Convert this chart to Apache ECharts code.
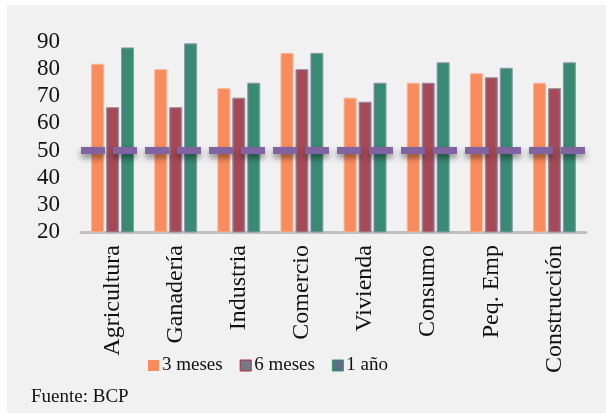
<!DOCTYPE html>
<html><head><meta charset="utf-8">
<script src="https://cdn.jsdelivr.net/npm/echarts@6/dist/echarts.min.js"></script>
<style>html,body{margin:0;padding:0;background:#fff;}#c{width:606px;height:415px;}</style>
</head><body><div id="c"></div>
<script>
const categories = ['Agricultura','Ganadería','Industria','Comercio','Vivienda','Consumo','Peq. Emp','Construcción'];
const seriesNames = ['3 meses','6 meses','1 año'];
const meses3 = [82, 80, 73, 86, 69.5, 75, 78.5, 75];
const meses6 = [66, 66, 69.5, 80, 68, 75, 77, 73];
const anio1 = [88, 89.5, 75, 86, 75, 82.5, 80.5, 82.5];
const threshold = 50;
const yTicks = [20, 30, 40, 50, 60, 70, 80, 90];
const sourceText = 'Fuente: BCP';

const font = '"Liberation Serif", "Times New Roman", serif';
const chart = echarts.init(document.getElementById('c'), null, {renderer: 'canvas'});
chart.setOption({
  animation: false,
  backgroundColor: '#ffffff',
  graphic: [
    {type: 'rect', left: 7, top: 5, shape: {width: 599, height: 408}, style: {fill: '#f1f1f1'}, z: -100, silent: true},
    {type: 'text', left: 31, top: 388, style: {text: sourceText, font: '19px ' + font, fill: '#111'}}
  ],
  grid: {left: 81, right: 20, top: 42, bottom: 183, containLabel: false},
  legend: {
    left: 148, top: 356, padding: 0, itemWidth: 11, itemHeight: 11, itemGap: 17, icon: 'rect',
    textStyle: {fontFamily: font, fontSize: 19, color: '#111', padding: [0, 0, 0, -2]},
    data: [
      {name: seriesNames[0], itemStyle: {color: '#f98b5c', borderWidth: 0}},
      {name: seriesNames[1], itemStyle: {color: '#717b8c', borderColor: '#b3283a', borderWidth: 1}},
      {name: seriesNames[2], itemStyle: {color: '#5a6e84', borderColor: '#2f9a6c', borderWidth: 1}}
    ]
  },
  xAxis: {
    type: 'category', data: categories,
    axisLine: {lineStyle: {color: '#c0c0c0', width: 3}},
    axisTick: {show: false},
    axisLabel: {rotate: 90, interval: 0, margin: 13, fontFamily: font, fontSize: 24, color: '#111'}
  },
  yAxis: {
    type: 'value', min: yTicks[0], max: yTicks[yTicks.length - 1], interval: 10,
    axisLine: {show: false}, axisTick: {show: false}, splitLine: {show: false},
    axisLabel: {margin: 21, fontFamily: font, fontSize: 23, color: '#111'}
  },
  series: [
    {name: seriesNames[0], type: 'bar', data: meses3, barWidth: 13, barGap: '15%',
     itemStyle: {color: '#f98b5c', borderColor: '#f6b89a', borderWidth: 1}},
    {name: seriesNames[1], type: 'bar', data: meses6, barWidth: 13, barGap: '15%',
     itemStyle: {color: new echarts.graphic.LinearGradient(0, 0, 1, 0, [
        {offset: 0, color: '#8a6a78'}, {offset: 0.25, color: '#a84856'}, {offset: 0.75, color: '#a84856'}, {offset: 1, color: '#8a6a78'}]),
       borderColor: '#9a8fa4', borderWidth: 1}},
    {name: seriesNames[2], type: 'bar', data: anio1, barWidth: 13, barGap: '15%',
     itemStyle: {color: new echarts.graphic.LinearGradient(0, 0, 1, 0, [
        {offset: 0, color: '#4f7a80'}, {offset: 0.25, color: '#388a72'}, {offset: 0.75, color: '#388a72'}, {offset: 1, color: '#2f9a6c'}]),
       borderColor: '#8a98b0', borderWidth: 1},
     markLine: {
       silent: true, symbol: 'none', label: {show: false},
       lineStyle: {color: '#8064a2', width: 7, type: [24, 8], cap: 'butt', opacity: 1,
         shadowColor: 'rgba(0,0,0,0.45)', shadowBlur: 6, shadowOffsetY: 4},
       data: [{yAxis: threshold}],
       z: 10
     }}
  ]
});
</script></body></html>
